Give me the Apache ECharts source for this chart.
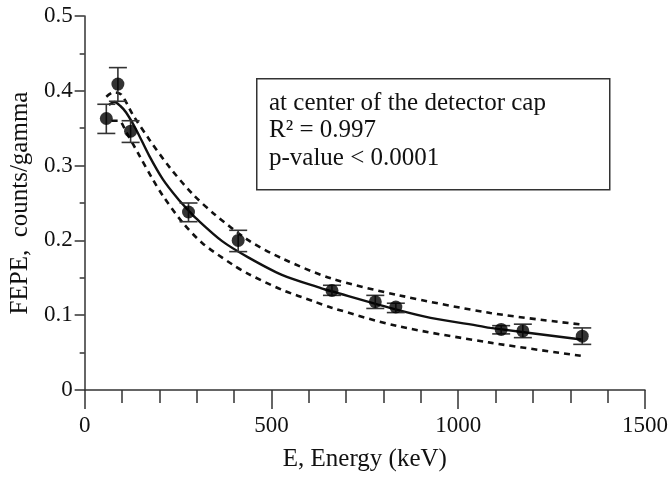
<!DOCTYPE html>
<html>
<head>
<meta charset="utf-8">
<script src="https://cdn.jsdelivr.net/npm/echarts@6/dist/echarts.min.js"></script>
<style>
html,body{margin:0;padding:0;background:#fff;}
#chart{width:671px;height:477px;}
</style>
</head>
<body>
<div id="chart"></div>
<script>
// Measured points (energy keV, FEPE counts/gamma) with error bar ends
const energies = [58, 89, 123, 278, 411, 662, 778, 833, 1115, 1173, 1332];
const fepe     = [0.363, 0.409, 0.346, 0.238, 0.200, 0.133, 0.118, 0.111, 0.081, 0.079, 0.072];
const errLow   = [0.343, 0.386, 0.331, 0.225, 0.185, 0.1265, 0.109, 0.1035, 0.075, 0.070, 0.061];
const errHigh  = [0.382, 0.431, 0.360, 0.250, 0.2135, 0.140, 0.1265, 0.116, 0.086, 0.088, 0.083];

// Fitted curve
const fitX = [65, 80, 95, 111, 138, 173, 209, 249, 278, 297, 368, 439, 528, 634, 661, 838, 926, 1059, 1086, 1330];
const fitY = [0.381, 0.385, 0.380, 0.371, 0.348, 0.313, 0.282, 0.256, 0.240, 0.230, 0.199, 0.177, 0.154, 0.136, 0.132, 0.107, 0.0964, 0.0854, 0.083, 0.0676];

// Upper confidence band
const upperX = [58, 78, 98, 129, 173, 227, 289, 350, 439, 528, 661, 838, 1086, 1330];
const upperY = [0.392, 0.398, 0.395, 0.368, 0.335, 0.298, 0.262, 0.234, 0.200, 0.176, 0.149, 0.127, 0.103, 0.0875];

// Lower confidence band
const lowerX = [72, 92, 111, 147, 182, 209, 262, 316, 395, 439, 528, 616, 661, 838, 1086, 1330];
const lowerY = [0.360, 0.360, 0.345, 0.313, 0.282, 0.260, 0.224, 0.196, 0.168, 0.155, 0.134, 0.118, 0.110, 0.0854, 0.0633, 0.0456];

// Axis ticks
const xTicks = [0, 500, 1000, 1500];
const yTicks = [0, 0.1, 0.2, 0.3, 0.4, 0.5];

const boxLines = ['at center of the detector cap', 'R\u00B2 = 0.997', 'p-value < 0.0001'];

const zip = (a, b) => a.map((v, i) => [v, b[i]]);
const FONT = 'Liberation Serif';

const chart = echarts.init(document.getElementById('chart'), null, {renderer: 'canvas'});

const option = {
  animation: false,
  backgroundColor: '#ffffff',
  grid: {left: 81, right: 25, top: 16, bottom: 84, containLabel: false},
  xAxis: {
    type: 'value',
    min: xTicks[0], max: xTicks[xTicks.length - 1], interval: 500,
    name: 'E, Energy (keV)', nameLocation: 'middle', nameGap: 57,
    nameTextStyle: {fontFamily: FONT, fontSize: 25, color: '#111'},
    axisLine: {onZero: false, lineStyle: {color: '#333', width: 1.5}},
    axisTick: {show: true, inside: false, length: 19, lineStyle: {color: '#333', width: 1.5}},
    minorTick: {show: true, splitNumber: 5, length: 13, lineStyle: {color: '#333', width: 1.5}},
    axisLabel: {fontFamily: FONT, fontSize: 23, color: '#111', margin: 24,
      formatter: v => String(Math.round(v))},
    splitLine: {show: false}
  },
  yAxis: {
    type: 'value',
    min: yTicks[0], max: yTicks[yTicks.length - 1], interval: 0.1,
    name: 'FEPE,  counts/gamma', nameLocation: 'middle', nameGap: 47,
    nameTextStyle: {fontFamily: FONT, fontSize: 25, color: '#111'},
    axisLine: {onZero: false, lineStyle: {color: '#333', width: 1.5}},
    axisTick: {show: true, inside: false, length: 10, lineStyle: {color: '#333', width: 1.5}},
    minorTick: {show: true, splitNumber: 2, length: 5, lineStyle: {color: '#333', width: 1.5}},
    axisLabel: {fontFamily: FONT, fontSize: 23, color: '#111', margin: 12,
      formatter: v => (v === 0 ? '0' : v.toFixed(1))},
    splitLine: {show: false}
  },
  series: [
    {
      type: 'line', data: zip(upperX, upperY), smooth: 0.3, symbol: 'none',
      lineStyle: {color: '#111', width: 2.6, type: [6, 5]}, z: 2
    },
    {
      type: 'line', data: zip(lowerX, lowerY), smooth: 0.3, symbol: 'none',
      lineStyle: {color: '#111', width: 2.6, type: [6, 5]}, z: 2
    },
    {
      type: 'line', data: zip(fitX, fitY), smooth: 0.3, symbol: 'none',
      lineStyle: {color: '#111', width: 2.4}, z: 3
    },
    {
      type: 'custom',
      data: energies.map((e, i) => [e, errLow[i], errHigh[i]]),
      renderItem: function (params, api) {
        const x = api.value(0);
        const top = api.coord([x, api.value(2)]);
        const bot = api.coord([x, api.value(1)]);
        const hw = 9;
        const st = {stroke: '#333', lineWidth: 1.6};
        return {
          type: 'group',
          children: [
            {type: 'line', shape: {x1: top[0], y1: top[1], x2: bot[0], y2: bot[1]}, style: st},
            {type: 'line', shape: {x1: top[0] - hw, y1: top[1], x2: top[0] + hw, y2: top[1]}, style: st},
            {type: 'line', shape: {x1: bot[0] - hw, y1: bot[1], x2: bot[0] + hw, y2: bot[1]}, style: st}
          ]
        };
      },
      z: 4
    },
    {
      type: 'scatter', data: zip(energies, fepe), symbol: 'circle', symbolSize: 13,
      itemStyle: {color: '#000'}, z: 5
    }
  ],
  graphic: [
    {
      type: 'rect', left: 256, top: 78,
      shape: {width: 353, height: 111},
      style: {fill: '#fff', stroke: '#333', lineWidth: 1.5}, z: 10
    },
    {type: 'text', x: 269, y: 103, style: {text: boxLines[0], font: '25px "Liberation Serif"', fill: '#111', verticalAlign: 'middle'}, z: 11},
    {type: 'text', x: 269, y: 130, style: {text: boxLines[1], font: '25px "Liberation Serif"', fill: '#111', verticalAlign: 'middle'}, z: 11},
    {type: 'text', x: 269, y: 158, style: {text: boxLines[2], font: '25px "Liberation Serif"', fill: '#111', verticalAlign: 'middle'}, z: 11}
  ]
};

chart.setOption(option);
</script>
</body>
</html>
